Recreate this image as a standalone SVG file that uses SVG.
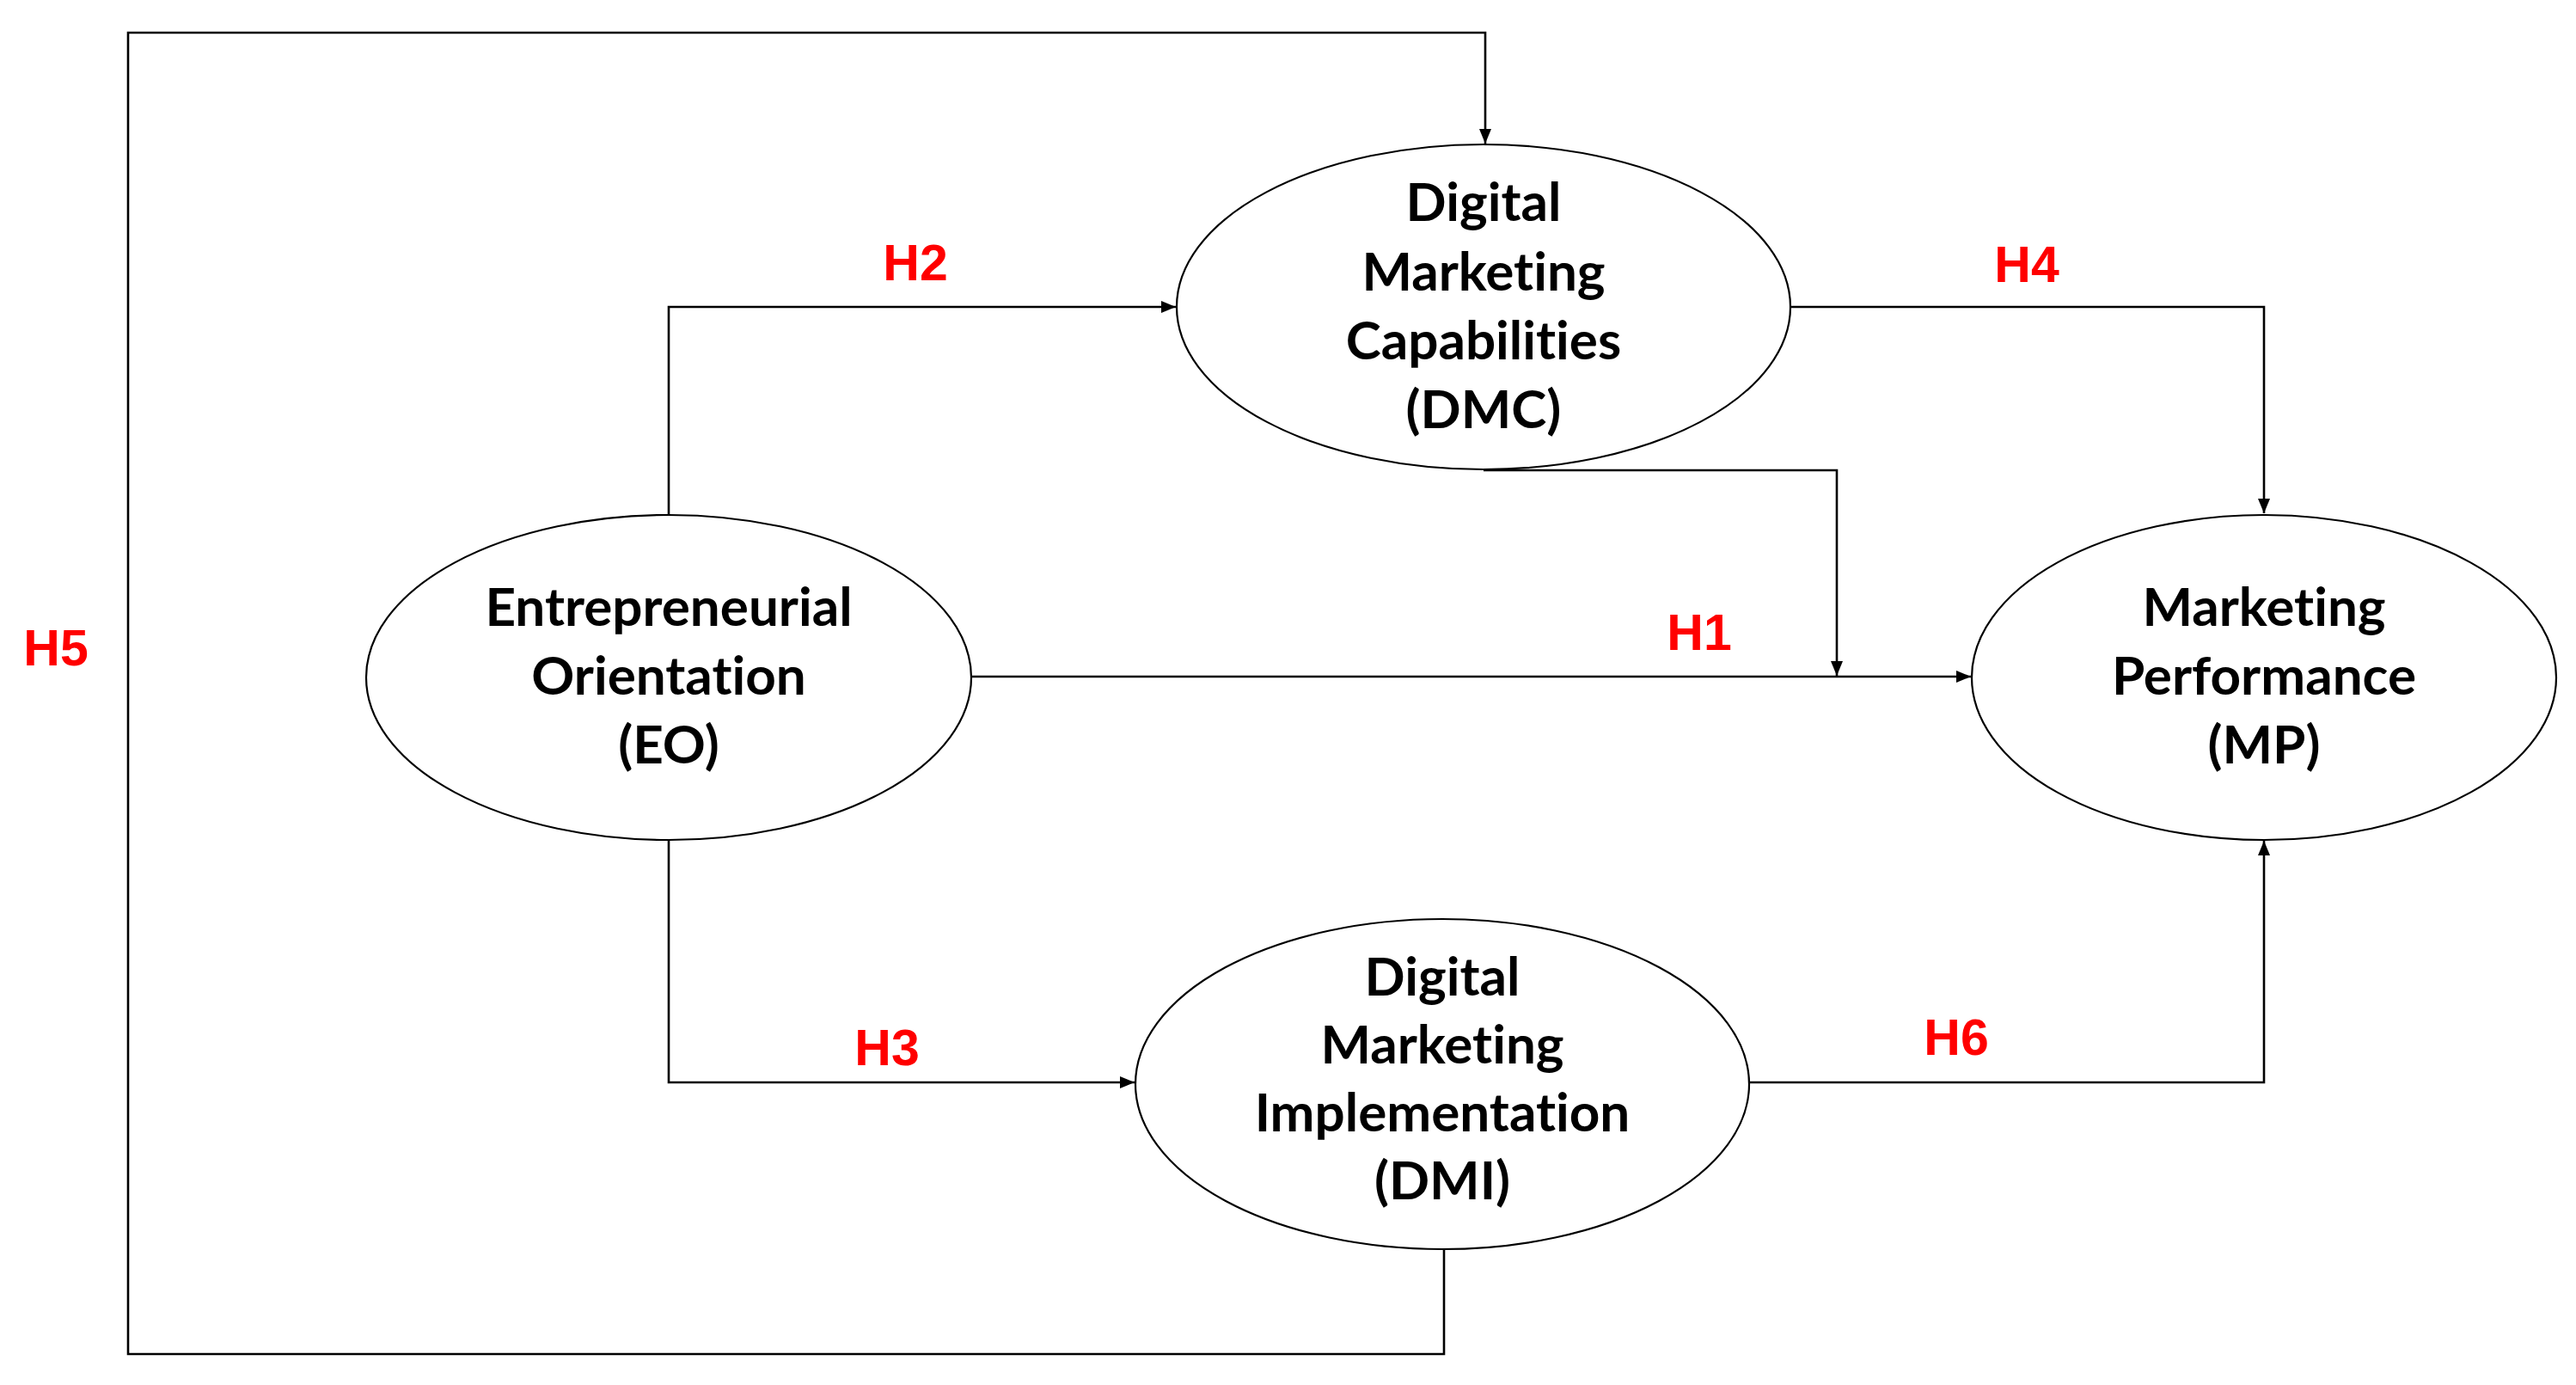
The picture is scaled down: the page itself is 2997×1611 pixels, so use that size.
<svg xmlns="http://www.w3.org/2000/svg" width="2997" height="1611" viewBox="0 0 2997 1611">
<style>
.node ellipse { fill: #ffffff; stroke: #000000; stroke-width: 2.2; }
.node text { font-family: Lato, "Open Sans", "Liberation Sans", sans-serif; font-weight: 700; font-size: 62px; fill: #000000; text-anchor: middle; font-variant-ligatures: none; font-feature-settings: "liga" 0, "clig" 0; }
.conn path { fill: none; stroke: #000000; stroke-width: 2.6; }
.lbl { font-family: "Liberation Sans", Arial, sans-serif; font-weight: 700; font-size: 59px; fill: #ff0000; text-anchor: middle; }
</style>
<defs>
<marker id="arr" markerUnits="userSpaceOnUse" markerWidth="18" markerHeight="16" refX="17" refY="8" orient="auto">
<path d="M0,1 L17,8 L0,15 z" fill="#000000"/>
</marker>
</defs>
<rect x="0" y="0" width="2997" height="1611" fill="#ffffff"/>
<g id="connectors" class="conn">
<path id="c-h5" d="M1680,1453 L1680,1575 L149,1575 L149,38 L1728,38 L1728,167" marker-end="url(#arr)"/>
<path id="c-h2" d="M778,598 L778,357 L1368,357" marker-end="url(#arr)"/>
<path id="c-h3" d="M778,977 L778,1259 L1320,1259" marker-end="url(#arr)"/>
<path id="c-h1" d="M1130,787 L2293,787" marker-end="url(#arr)"/>
<path id="c-h4" d="M2083,357 L2634,357 L2634,597" marker-end="url(#arr)"/>
<path id="c-dmc-h1" d="M1726,547 L2137,547 L2137,786" marker-end="url(#arr)"/>
<path id="c-h6" d="M2036,1259 L2634,1259 L2634,978" marker-end="url(#arr)"/>
</g>
<g id="node-eo" class="node">
<ellipse cx="778" cy="788" rx="352" ry="189"/>
<text x="778" y="728">Entrepreneurial</text>
<text x="778" y="808">Orientation</text>
<text x="778" y="888">(EO)</text>
</g>
<g id="node-dmc" class="node">
<ellipse cx="1726" cy="357" rx="357" ry="189"/>
<text x="1726" y="257">Digital</text>
<text x="1726" y="338">Marketing</text>
<text x="1726" y="418">Capabilities</text>
<text x="1726" y="498">(DMC)</text>
</g>
<g id="node-dmi" class="node">
<ellipse cx="1678" cy="1261" rx="357" ry="192"/>
<text x="1678" y="1158">Digital</text>
<text x="1678" y="1237">Marketing</text>
<text x="1678" y="1316">Implementation</text>
<text x="1678" y="1395">(DMI)</text>
</g>
<g id="node-mp" class="node">
<ellipse cx="2634" cy="788" rx="340" ry="189"/>
<text x="2634" y="728">Marketing</text>
<text x="2634" y="808">Performance</text>
<text x="2634" y="888">(MP)</text>
</g>
<g id="labels">
<text class="lbl" x="65" y="774">H5</text>
<text class="lbl" x="1065" y="326">H2</text>
<text class="lbl" x="1977" y="756">H1</text>
<text class="lbl" x="2358" y="328">H4</text>
<text class="lbl" x="1032" y="1239">H3</text>
<text class="lbl" x="2276" y="1227">H6</text>
</g>
</svg>
